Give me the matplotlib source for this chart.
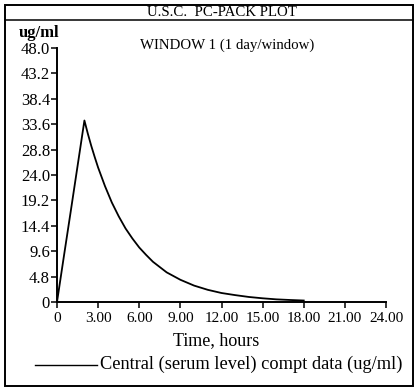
import matplotlib
matplotlib.use("Agg")
import matplotlib.pyplot as plt
from matplotlib.lines import Line2D
from matplotlib.patches import Rectangle

# data
time_h = [0, 0.5, 1.0, 1.5, 2.0, 2.25, 2.5, 2.75, 3.0, 3.5, 4.0, 4.5, 5.0,
          5.5, 6.0, 6.5, 7.0, 7.5, 8.0, 9.0, 10.0, 11.0, 12.0, 13.0, 14.0,
          15.0, 16.0, 17.0, 18.0]
conc = [0, 8.6, 17.1, 25.7, 34.3, 31.8, 29.5, 27.4, 25.4, 21.9, 18.8, 16.2,
        13.9, 12.0, 10.3, 8.9, 7.6, 6.6, 5.6, 4.2, 3.1, 2.3, 1.7, 1.3, 0.95,
        0.7, 0.5, 0.38, 0.28]

xticks = [0, 3, 6, 9, 12, 15, 18, 21, 24]
xlabels = ["0", "3.00", "6.00", "9.00", "12.00", "15.00", "18.00", "21.00", "24.00"]
yticks = [0, 4.8, 9.6, 14.4, 19.2, 24.0, 28.8, 33.6, 38.4, 43.2, 48.0]
ylabels = ["0", "4.8", "9.6", "14.4", "19.2", "24.0", "28.8", "33.6", "38.4", "43.2", "48.0"]

plt.rcParams['font.family'] = ['Liberation Serif', 'DejaVu Serif']

W, H = 417, 388
fig = plt.figure(figsize=(W / 100, H / 100), dpi=100)


def fx(px):
    return px / W


def fy(py):
    return 1 - py / H


ax = fig.add_axes([fx(57), fy(302), fx(386) - fx(57), fy(48) - fy(302)])
ax.plot(time_h, conc, color='black', lw=1.3)
ax.set_xlim(0, 24)
ax.set_ylim(0, 48)
ax.set_xticks(xticks)
ax.set_xticklabels(xlabels)
ax.set_yticks(yticks)
ax.set_yticklabels(ylabels)
ax.spines['top'].set_visible(False)
ax.spines['right'].set_visible(False)
ax.spines['left'].set_linewidth(1.4)
ax.spines['bottom'].set_linewidth(1.4)
ax.tick_params(axis='both', direction='out', length=4, width=1.1,
               pad=1, colors='black')
ax.tick_params(axis='x', labelsize=11, pad=3)
ax.tick_params(axis='y', labelsize=12)

# outer frame and header
fig.patches.append(Rectangle((fx(5), fy(386)), fx(413) - fx(5), fy(5) - fy(386),
                             transform=fig.transFigure, fill=False,
                             edgecolor='black', lw=1.4))
fig.lines.append(Line2D([fx(5), fx(413)], [fy(20), fy(20)],
                        transform=fig.transFigure, color='black', lw=1.1))
fig.text(fx(222), fy(13), "U.S.C.  PC-PACK PLOT", ha='center', va='center',
         fontsize=10.7)
fig.text(fx(19), fy(33), "ug/ml", ha='left', va='center', fontsize=12,
         fontweight='bold')
fig.text(fx(140), fy(45), "WINDOW 1 (1 day/window)", ha='left', va='center',
         fontsize=10.7)
fig.text(fx(216), fy(341), "Time, hours", ha='center', va='center',
         fontsize=13)

# legend line and text
fig.lines.append(Line2D([fx(35), fx(97)], [fy(365), fy(365)],
                        transform=fig.transFigure, color='black', lw=1.0))
fig.text(fx(100), fy(364), "Central (serum level) compt data (ug/ml)",
         ha='left', va='center', fontsize=13.2)

fig.savefig("out.png", dpi=100)
